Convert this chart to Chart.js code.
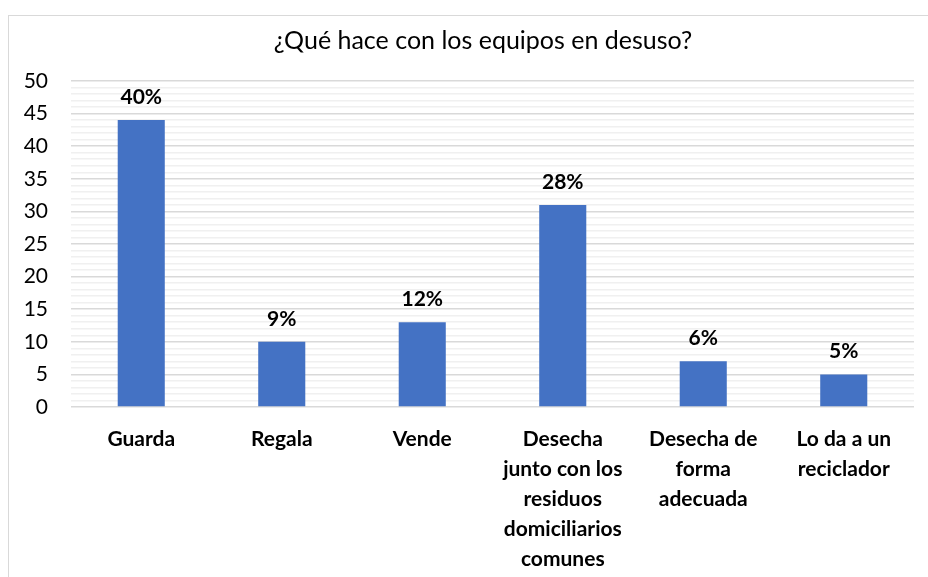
<!DOCTYPE html>
<html><head><meta charset="utf-8">
<script src="https://cdn.jsdelivr.net/npm/chart.js@4/dist/chart.umd.min.js"></script>
<style>
html,body{margin:0;padding:0;background:#fff;}
#wrap{position:relative;width:928px;height:577px;}
#frame{position:absolute;left:8px;top:15px;width:940px;height:600px;border:1.5px solid #d9d9d9;box-sizing:border-box;}
canvas{position:absolute;left:0;top:0;}
</style></head>
<body><div id="wrap"><div id="frame"></div><canvas id="c" width="928" height="577"></canvas></div>
<script>
const categories = [
  "Guarda",
  "Regala",
  "Vende",
  ["Desecha", "junto con los", "residuos", "domiciliarios", "comunes"],
  ["Desecha de", "forma", "adecuada"],
  ["Lo da a un", "reciclador"]
];
const counts = [44, 10, 13, 31, 7, 5];
const percentLabels = ["40%", "9%", "12%", "28%", "6%", "5%"];
const titleText = "¿Qué hace con los equipos en desuso?";

const dataLabels = {
  id: 'dataLabels',
  afterDatasetsDraw(chart) {
    const ctx = chart.ctx;
    const meta = chart.getDatasetMeta(0);
    ctx.save();
    ctx.font = 'bold 21px Lato';
    ctx.fillStyle = '#000';
    ctx.textAlign = 'center';
    ctx.textBaseline = 'middle';
    meta.data.forEach((bar, i) => {
      ctx.fillText(percentLabels[i], bar.x, bar.y - 23);
    });
    ctx.restore();
  }
};

const titlePlugin = {
  id: 'titleText',
  afterDraw(chart) {
    const ctx = chart.ctx;
    ctx.save();
    ctx.font = '25px Lato';
    ctx.fillStyle = '#000';
    ctx.textAlign = 'center';
    ctx.textBaseline = 'middle';
    ctx.fillText(titleText, 483, 41);
    ctx.restore();
  }
};

new Chart(document.getElementById('c'), {
  type: 'bar',
  data: {
    labels: categories,
    datasets: [{
      data: counts,
      backgroundColor: '#4472c4',
      barPercentage: 0.335,
      categoryPercentage: 1.0
    }]
  },
  options: {
    responsive: false,
    animation: false,
    layout: { padding: { left: 0, right: 14, top: 81, bottom: 0 } },
    plugins: {
      legend: { display: false },
      tooltip: { enabled: false },
      title: { display: false }
    },
    scales: {
      x: {
        grid: { display: false, drawTicks: false },
        border: { display: false },
        ticks: {
          color: '#000',
          font: { family: 'Lato', size: 21, weight: 'bold', lineHeight: 1.43 },
          padding: 17,
          maxRotation: 0,
          autoSkip: false
        },
        afterFit(scale) { scale.height = 170; }
      },
      y: {
        min: 0, max: 50,
        grid: {
          drawTicks: false,
          color: (c) => (c.tick && c.tick.value % 5 === 0) ? '#d9d9d9' : '#f0f0f0',
          lineWidth: 1.5
        },
        border: { display: false },
        ticks: {
          stepSize: 1,
          autoSkip: false,
          color: '#000',
          font: { family: 'Lato', size: 21 },
          padding: 23,
          callback: (v) => (v % 5 === 0 ? String(v) : '')
        },
        afterFit(scale) { scale.width = 71; }
      }
    }
  },
  plugins: [dataLabels, titlePlugin]
});
</script></body></html>
